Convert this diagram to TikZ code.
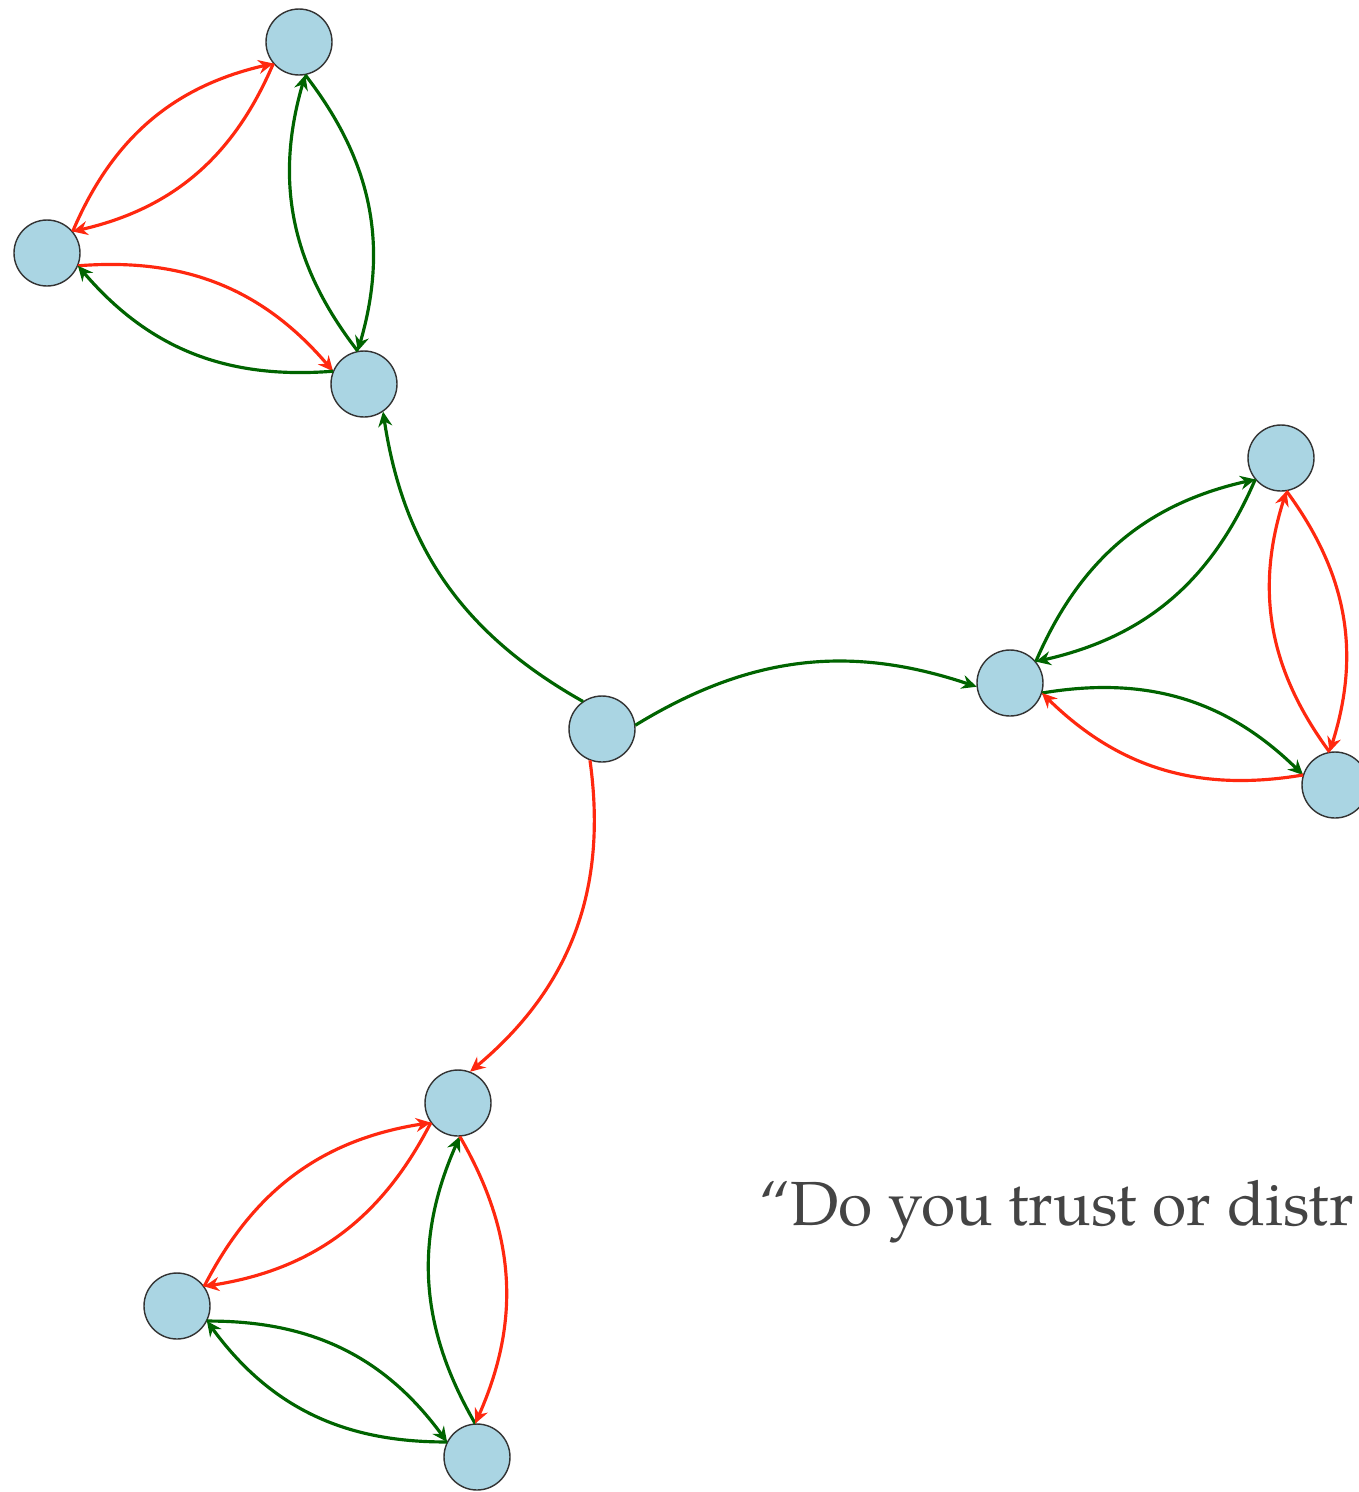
\documentclass[tikz,border=0pt]{standalone}
\usepackage{fontspec}
\setmainfont{TeX Gyre Pagella}
\usetikzlibrary{arrows.meta,calc}
\definecolor{nodefill}{RGB}{170,213,227}
\definecolor{tgreen}{RGB}{0,100,0}
\definecolor{tred}{RGB}{255,40,15}
\definecolor{txtgray}{RGB}{68,68,68}
\newcommand{\tarc}[4][27]{\draw[#2,bend left=#1] ($(#3)!0.67cm!(#4)$) to ($(#4)!0.67cm!(#3)$);}
\begin{document}
\begin{tikzpicture}[x=0.02cm,y=-0.02cm,
  vtx/.style={circle,draw=black!80,line width=0.8pt,fill=nodefill,minimum size=1.32cm,inner sep=0pt},
  edgebase/.style={line width=1.8pt,-{Stealth[length=0.3cm,width=0.28cm,inset=0.1cm]}},
  gedge/.style={edgebase,draw=tgreen},
  redge/.style={edgebase,draw=tred}]
\useasboundingbox (0,0) rectangle (1359,1492);
\clip (0,0) rectangle (1359,1492);
% nodes
\node[vtx] (A1) at (299,42) {};
\node[vtx] (A2) at (47,253) {};
\node[vtx] (A3) at (364,384) {};
\node[vtx] (C) at (602,729) {};
\node[vtx] (B1) at (1281,458) {};
\node[vtx] (B2) at (1010,683) {};
\node[vtx] (B3) at (1335,785) {};
\node[vtx] (D1) at (458,1103) {};
\node[vtx] (D2) at (177,1306) {};
\node[vtx] (D3) at (477,1457) {};
% cluster A
\tarc{gedge}{A1}{A3}
\tarc{gedge}{A3}{A1}
\tarc{redge}{A1}{A2}
\tarc{redge}{A2}{A1}
\tarc{redge}{A2}{A3}
\tarc{gedge}{A3}{A2}
% centre
\tarc[26]{gedge}{C}{A3}
\tarc[25]{gedge}{C}{B2}
\tarc[29]{redge}{C}{D1}
% cluster B
\tarc{gedge}{B1}{B2}
\tarc{gedge}{B2}{B1}
\tarc{redge}{B1}{B3}
\tarc{redge}{B3}{B1}
\tarc{gedge}{B2}{B3}
\tarc{redge}{B3}{B2}
% cluster D
\tarc{redge}{D1}{D2}
\tarc{redge}{D2}{D1}
\tarc{gedge}{D2}{D3}
\tarc{gedge}{D3}{D2}
\tarc{gedge}{D3}{D1}
\tarc{redge}{D1}{D3}
% text
\node[anchor=base west,inner sep=0pt,text=txtgray,font=\fontsize{35.5}{42}\selectfont] (T) at (759,1225) {“Do you trust or distr};
\end{tikzpicture}
\end{document}
